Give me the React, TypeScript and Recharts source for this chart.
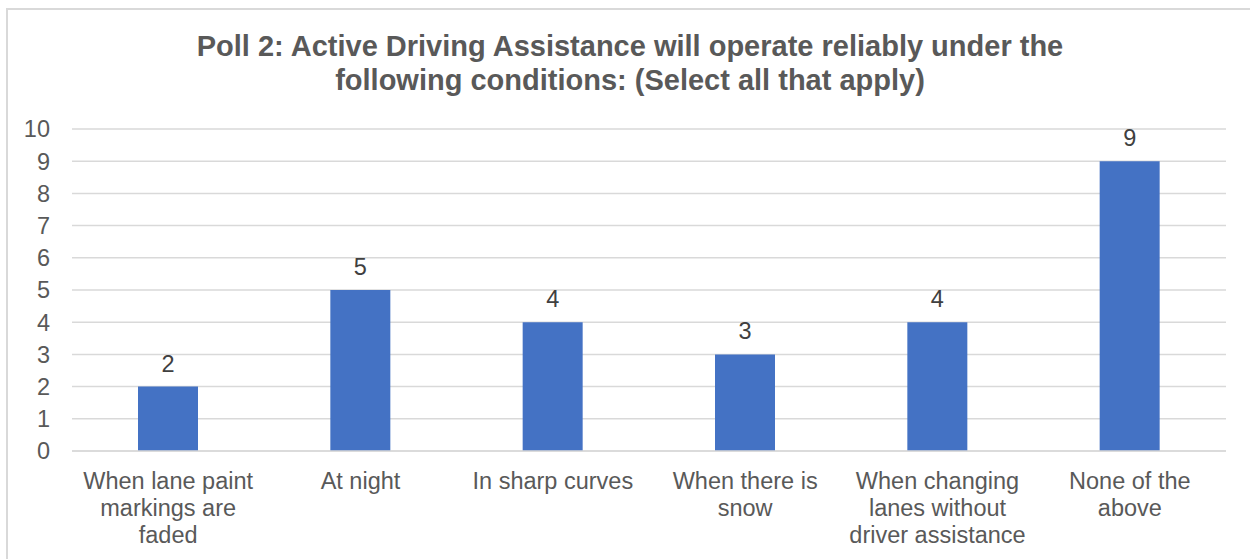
import React from 'react';
import { BarChart, Bar, XAxis, YAxis, CartesianGrid, LabelList } from 'recharts';

const categories = [
  'When lane paint markings are faded',
  'At night',
  'In sharp curves',
  'When there is snow',
  'When changing lanes without driver assistance',
  'None of the above',
];
const tickLines = [
  ['When lane paint', 'markings are', 'faded'],
  ['At night'],
  ['In sharp curves'],
  ['When there is', 'snow'],
  ['When changing', 'lanes without', 'driver assistance'],
  ['None of the', 'above'],
];
const votes = [2, 5, 4, 3, 4, 9];
const yTicks = [0, 1, 2, 3, 4, 5, 6, 7, 8, 9, 10];
const titleLines = [
  'Poll 2: Active Driving Assistance will operate reliably under the',
  'following conditions: (Select all that apply)',
];

const data = categories.map((name, i) => ({ name, votes: votes[i] }));

const FONT = 'Arial, "Liberation Sans", sans-serif';

function CategoryTick(props: any) {
  const { x, y, index } = props;
  const lines = tickLines[index] || [];
  return (
    <g>
      {lines.map((t, i) => (
        <text
          key={i}
          x={x}
          y={y + 30 + i * 27}
          textAnchor="middle"
          fill="#595959"
          fontSize={23.5}
          fontFamily={FONT}
        >
          {t}
        </text>
      ))}
    </g>
  );
}

export default function App() {
  return (
    <div style={{ position: 'absolute', left: 0, top: 0, width: 1250, height: 559, background: '#fff' }}>
      <div
        style={{
          position: 'absolute',
          left: 6,
          top: 8,
          width: 1244,
          height: 551,
          borderTop: '2px solid #d9d9d9',
          borderLeft: '2px solid #d9d9d9',
        }}
      />
      <svg width={1250} height={110} style={{ position: 'absolute', left: 0, top: 0 }}>
        {titleLines.map((t, i) => (
          <text
            key={i}
            x={630}
            y={56 + i * 34}
            textAnchor="middle"
            fontFamily={FONT}
            fontWeight="bold"
            fontSize={29}
            fill="#595959"
          >
            {t}
          </text>
        ))}
      </svg>
      <div style={{ position: 'absolute', left: 0, top: 0 }}>
        <BarChart
          width={1250}
          height={559}
          data={data}
          margin={{ top: 129, right: 24, bottom: 78, left: 0 }}
          barCategoryGap={0}
        >
          <CartesianGrid vertical={false} stroke="#d9d9d9" strokeWidth={1.5} />
          <XAxis
            dataKey="name"
            height={30}
            axisLine={{ stroke: '#d9d9d9', strokeWidth: 1.5 }}
            tickLine={false}
            interval={0}
            tick={<CategoryTick />}
          />
          <YAxis
            width={72}
            domain={[0, 10]}
            ticks={yTicks}
            interval={0}
            axisLine={false}
            tickLine={false}
            tickMargin={16}
            tick={{ fill: '#595959', fontSize: 23.5, fontFamily: FONT }}
          />
          <Bar dataKey="votes" fill="#4472C4" barSize={60} isAnimationActive={false}>
            <LabelList
              dataKey="votes"
              position="top"
              offset={15}
              fill="#404040"
              fontSize={23.5}
              fontFamily={FONT}
            />
          </Bar>
        </BarChart>
      </div>
    </div>
  );
}
